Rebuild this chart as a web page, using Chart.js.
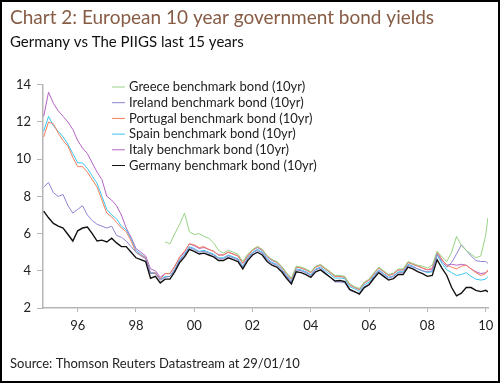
<!DOCTYPE html>
<html>
<head>
<meta charset="utf-8">
<script src="https://cdn.jsdelivr.net/npm/chart.js@4.4.1/dist/chart.umd.min.js"></script>
<style>
  html, body { margin: 0; padding: 0; background: #fff; }
  canvas { display: block; }
</style>
</head>
<body>
<canvas id="myChart" width="500" height="383"></canvas>
<script>
// sample dates (roughly every two months)
const months = [
  "1994-11", "1995-01", "1995-03", "1995-05", "1995-07", "1995-09", "1995-11",
  "1996-01", "1996-03", "1996-05", "1996-07", "1996-09", "1996-11",
  "1997-01", "1997-03", "1997-05", "1997-07", "1997-09", "1997-11",
  "1998-01", "1998-03", "1998-05", "1998-07", "1998-09", "1998-11",
  "1999-01", "1999-03", "1999-05", "1999-07", "1999-09", "1999-11",
  "2000-01", "2000-03", "2000-05", "2000-07", "2000-09", "2000-11",
  "2001-01", "2001-03", "2001-05", "2001-07", "2001-09", "2001-11",
  "2002-01", "2002-03", "2002-05", "2002-07", "2002-09", "2002-11",
  "2003-01", "2003-03", "2003-05", "2003-07", "2003-09", "2003-11",
  "2004-01", "2004-03", "2004-05", "2004-07", "2004-09", "2004-11",
  "2005-01", "2005-03", "2005-05", "2005-07", "2005-09", "2005-11",
  "2006-01", "2006-03", "2006-05", "2006-07", "2006-09", "2006-11",
  "2007-01", "2007-03", "2007-05", "2007-07", "2007-09", "2007-11",
  "2008-01", "2008-03", "2008-05", "2008-07", "2008-09", "2008-11",
  "2009-01", "2009-03", "2009-05", "2009-07", "2009-09", "2009-11",
  "2010-01", "2010-01-29"
];

const greece = [
  null, null, null, null, null, null, null,
  null, null, null, null, null, null,
  null, null, null, null, null, null,
  null, null, null, null, null, null,
  5.55, 5.45, 6.0, 6.5, 7.1, 6.1,
  5.95, 6.0, 5.85, 5.75, 5.5, 5.1,
  4.95, 5.1, 5.0, 4.9, 4.5, 4.9,
  5.15, 5.3, 5.15, 4.8, 4.6, 4.5,
  4.25, 3.9, 3.6, 4.25, 4.2, 4.1,
  3.95, 4.25, 4.35, 4.15, 3.95, 3.75,
  3.75, 3.7, 3.3, 3.15, 3.05, 3.4,
  3.55, 3.9, 4.2, 4.0, 3.8, 3.88,
  4.1, 4.1, 4.5, 4.4, 4.3, 4.25,
  4.15, 4.3, 5.05, 4.75, 4.5, 5.0,
  5.85, 5.35, 5.1, 4.9, 4.7, 4.8,
  5.9, 6.85
];

const ireland = [
  8.5, 8.75, 8.2, 8.0, 8.1, 7.5, 7.1,
  7.3, 7.5, 7.0, 6.7, 6.5, 6.4,
  6.3, 6.4, 5.9, 5.8, 5.6, 5.3,
  5.0, 4.8, 4.65, 3.85, 3.85, 3.5,
  3.65, 3.7, 4.05, 4.55, 4.85, 5.25,
  5.15, 5.0, 5.05, 4.95, 4.85, 4.65,
  4.65, 4.8, 4.7, 4.6, 4.2, 4.65,
  4.95, 5.1, 4.95, 4.6, 4.4, 4.3,
  4.05, 3.7, 3.4, 4.05, 4.0, 3.9,
  3.75, 4.05, 4.15, 3.9, 3.65, 3.4,
  3.4, 3.35, 2.95, 2.85, 2.8, 3.15,
  3.3, 3.7, 4.0, 3.8, 3.6, 3.7,
  3.9, 3.9, 4.3, 4.2, 4.1, 4.0,
  3.95, 4.0, 4.9, 4.5, 4.2, 4.45,
  4.9, 5.4, 5.1, 4.8, 4.55, 4.5,
  4.5, 4.4
];

const portugal = [
  11.2, 12.0, 11.9, 11.4, 11.0, 10.7, 10.1,
  9.6, 9.6, 9.3, 8.9, 8.5, 7.8,
  7.1, 6.9, 6.6, 6.3, 6.1, 5.6,
  5.0, 4.85, 4.7, 3.85, 3.9, 3.55,
  3.85, 3.85, 4.25, 4.75, 5.05, 5.45,
  5.4, 5.25, 5.3, 5.15, 5.05, 4.85,
  4.85, 5.0, 4.9, 4.8, 4.4, 4.8,
  5.1, 5.3, 5.15, 4.8, 4.6, 4.45,
  4.2, 3.85, 3.55, 4.2, 4.15, 4.05,
  3.9, 4.2, 4.3, 4.1, 3.9, 3.7,
  3.7, 3.65, 3.25, 3.1, 3.0, 3.35,
  3.5, 3.85, 4.15, 3.95, 3.75, 3.82,
  4.05, 4.05, 4.45, 4.35, 4.25, 4.15,
  4.05, 4.15, 5.0, 4.6, 4.3, 4.2,
  4.1, 4.25, 4.3, 4.1, 3.9, 3.75,
  3.85, 4.05
];

const spain = [
  11.5, 12.3, 11.8, 11.5, 11.2, 10.8, 10.3,
  9.8, 9.8, 9.5, 9.1, 8.7, 8.0,
  7.3, 7.0, 6.8, 6.4, 6.2, 5.7,
  5.1, 4.9, 4.7, 3.9, 3.9, 3.55,
  3.7, 3.7, 4.1, 4.6, 4.9, 5.3,
  5.2, 5.05, 5.1, 5.0, 4.9, 4.7,
  4.7, 4.85, 4.75, 4.65, 4.25, 4.7,
  5.0, 5.15, 5.0, 4.65, 4.45, 4.35,
  4.1, 3.75, 3.45, 4.1, 4.05, 3.95,
  3.8, 4.1, 4.2, 4.0, 3.8, 3.6,
  3.62, 3.57, 3.15, 3.03, 2.9, 3.25,
  3.4, 3.75, 4.05, 3.85, 3.65, 3.73,
  3.95, 3.95, 4.35, 4.25, 4.1, 4.0,
  3.9, 3.95, 4.85, 4.4, 4.05, 3.9,
  3.75, 3.8, 3.9, 3.7, 3.55, 3.5,
  3.55, 3.7
];

const italy = [
  12.3, 13.6, 13.0, 12.6, 12.3, 12.0, 11.6,
  11.0, 10.6, 10.3, 9.8, 9.3, 8.9,
  8.0, 7.8, 7.5, 7.0, 6.3, 5.8,
  5.2, 5.0, 4.8, 4.1, 4.0, 3.65,
  3.85, 3.85, 4.25, 4.7, 5.0, 5.45,
  5.35, 5.2, 5.25, 5.15, 5.05, 4.85,
  4.85, 5.0, 4.9, 4.8, 4.4, 4.8,
  5.1, 5.25, 5.1, 4.75, 4.55, 4.45,
  4.2, 3.85, 3.55, 4.2, 4.15, 4.05,
  3.9, 4.2, 4.3, 4.1, 3.9, 3.7,
  3.72, 3.65, 3.25, 3.1, 3.0, 3.35,
  3.5, 3.85, 4.15, 3.95, 3.75, 3.85,
  4.05, 4.05, 4.45, 4.35, 4.25, 4.15,
  4.05, 4.1, 5.0, 4.6, 4.3, 4.35,
  4.3, 4.35, 4.3, 4.1, 3.95, 3.85,
  3.9, 4.0
];

const germany = [
  7.21, 6.85, 6.55, 6.4, 6.3, 5.95, 5.6,
  6.15, 6.3, 6.35, 6.0, 5.6, 5.65,
  5.55, 5.75, 5.5, 5.3, 5.3, 5.0,
  4.7, 4.6, 4.5, 3.6, 3.7, 3.35,
  3.55, 3.55, 3.95, 4.45, 4.75, 5.15,
  5.05, 4.9, 4.95, 4.85, 4.75, 4.55,
  4.55, 4.7, 4.6, 4.5, 4.1, 4.55,
  4.85, 5.0, 4.85, 4.5, 4.3, 4.2,
  3.95, 3.6, 3.3, 3.95, 3.9, 3.8,
  3.65, 3.95, 4.05, 3.85, 3.65, 3.45,
  3.48, 3.42, 3.0, 2.88, 2.75, 3.1,
  3.25, 3.6, 3.9, 3.7, 3.5, 3.58,
  3.8, 3.8, 4.2, 4.1, 3.95, 3.85,
  3.7, 3.75, 4.6, 4.15, 3.75, 3.1,
  2.65, 2.8, 3.1, 3.1, 2.95, 2.88,
  2.95, 2.87
];

const yTicks = [2, 4, 6, 8, 10, 12, 14];
const xTickYears = [1996, 1998, 2000, 2002, 2004, 2006, 2008, 2010];

const titleText = "Chart 2: European 10 year government bond yields";
const subtitleText = "Germany vs The PIIGS last 15 years";
const sourceText = "Source: Thomson Reuters Datastream at 29/01/10";

function toYear(s) {
  const p = s.split("-").map(Number);
  return p[0] + (p[1] - 1) / 12 + (p[2] ? (p[2] - 1) / 365 : 0);
}

function series(values) {
  return months.map((m, i) => ({ x: toYear(m), y: values[i] }));
}

const FONT = "Lato";

// legend, source line and frame drawn on top
const decor = {
  id: "decor",
  afterDraw(chart) {
    const c = chart.ctx;
    c.save();
    c.font = "13px " + FONT;
    c.textBaseline = "middle";
    chart.data.datasets.forEach((ds, i) => {
      const y = 87 + i * 15.7;
      c.strokeStyle = ds.borderColor;
      c.lineWidth = 1;
      c.beginPath();
      c.moveTo(112, y);
      c.lineTo(125, y);
      c.stroke();
      c.fillStyle = "#222";
      c.fillText(ds.label, 129, y);
    });
    c.textBaseline = "alphabetic";
    c.fillStyle = "#222";
    c.fillText(sourceText, 10, 368);
    c.strokeStyle = "#000";
    c.lineWidth = 2;
    c.strokeRect(1, 1, 498, 381);
    c.restore();
  }
};

const ctx = document.getElementById("myChart");
const myChart = new Chart(ctx, {
  type: "line",
  data: {
    datasets: [
      { label: "Greece benchmark bond (10yr)", data: series(greece), borderColor: "#98d283", borderWidth: 1 },
      { label: "Ireland benchmark bond (10yr)", data: series(ireland), borderColor: "#8c86d2", borderWidth: 1 },
      { label: "Portugal benchmark bond (10yr)", data: series(portugal), borderColor: "#f47f5c", borderWidth: 1 },
      { label: "Spain benchmark bond (10yr)", data: series(spain), borderColor: "#3cc6ef", borderWidth: 1 },
      { label: "Italy benchmark bond (10yr)", data: series(italy), borderColor: "#b563c4", borderWidth: 1 },
      { label: "Germany benchmark bond (10yr)", data: series(germany), borderColor: "#111111", borderWidth: 1.4, order: -1 },
    ],
  },
  options: {
    responsive: false,
    animation: false,
    elements: {
      point: { radius: 0 },
      line: { tension: 0 },
    },
    layout: {
      padding: { left: 10, right: 12, top: 0, bottom: 45 },
    },
    plugins: {
      legend: { display: false },
      tooltip: { enabled: false },
      title: {
        display: true,
        text: titleText,
        align: "start",
        color: "#865c45",
        font: { family: FONT, size: 19, weight: "normal" },
        padding: { top: 6, bottom: 0 },
      },
      subtitle: {
        display: true,
        text: subtitleText,
        align: "start",
        color: "#111",
        font: { family: FONT, size: 15, weight: "normal" },
        padding: { top: 4, bottom: 34 },
      },
    },
    scales: {
      x: {
        type: "linear",
        min: 1994.81,
        max: 2010.08,
        afterBuildTicks: (s) => { s.ticks = xTickYears.map((v) => ({ value: v })); },
        afterFit: (s) => { s.height = 30; },
        ticks: {
          autoSkip: false,
          maxRotation: 0,
          padding: 6,
          color: "#222",
          font: { family: FONT, size: 13 },
          callback: (v) => String(v % 100).padStart(2, "0"),
        },
        grid: { drawOnChartArea: false, tickLength: 4, color: "#b5b5b5" },
        border: { color: "#b5b5b5", width: 1.5 },
      },
      y: {
        min: 2,
        max: 14,
        afterBuildTicks: (s) => { s.ticks = yTicks.map((v) => ({ value: v })); },
        afterFit: (s) => { s.width = 33; },
        ticks: {
          padding: 6,
          color: "#222",
          font: { family: FONT, size: 13 },
        },
        grid: { drawOnChartArea: false, tickLength: 6, color: "#b5b5b5" },
        border: { color: "#b5b5b5", width: 1.5 },
      },
    },
  },
  plugins: [decor],
});
</script>
</body>
</html>
